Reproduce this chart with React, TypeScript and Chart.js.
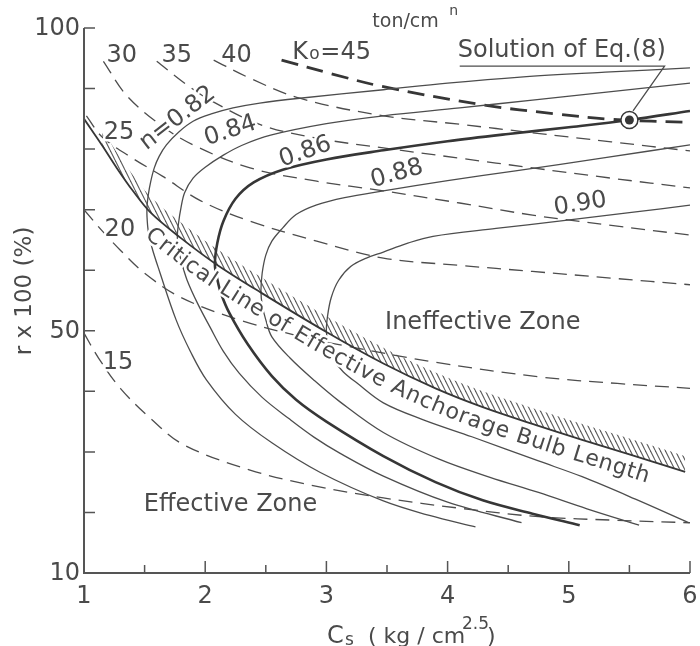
import React, { useEffect, useRef } from "react";
import { Chart, registerables } from "chart.js";
Chart.register(...registerables);

// ---------- data ----------
// Critical Line of Effective Anchorage Bulb Length
const CRIT_X = [1.0, 1.15, 1.27, 1.4, 1.55, 1.8, 2.09, 2.46, 3.0, 3.47, 3.9, 4.29, 4.75, 5.11, 5.5, 5.96];
const CRIT_Y = [85.0, 80.6, 76.9, 73.2, 69.5, 65.3, 61.0, 56.3, 49.8, 44.6, 40.5, 37.4, 34.3, 32.0, 29.6, 26.7];

// n curves (from upper-right end, through the vertex on the critical line, to lower-right end)
const N082_X = [6.0, 5.3, 4.6, 4.0, 3.47, 2.78, 2.45, 2.23, 2.05, 1.9, 1.78, 1.68, 1.62, 1.58, 1.55, 1.53, 1.52, 1.52, 1.53, 1.56, 1.62, 1.76, 1.88, 2.01, 2.25, 2.55, 2.95, 3.47, 3.85, 4.23];
const N082_Y = [93.4, 92.7, 91.9, 90.9, 89.8, 88.4, 87.6, 86.8, 85.8, 84.6, 82.8, 80.7, 78.8, 76.9, 74.6, 72.4, 70.5, 68.8, 66.5, 63.8, 60.0, 51.8, 46.5, 41.9, 36.2, 31.5, 26.6, 21.9, 19.5, 17.6];
const N084_X = [6.0, 5.35, 4.7, 4.1, 3.47, 3.0, 2.54, 2.3, 2.15, 2.0, 1.9, 1.83, 1.8, 1.78, 1.77, 1.78, 1.8, 1.85, 1.94, 2.04, 2.15, 2.28, 2.47, 2.69, 2.9, 3.11, 3.47, 4.0, 4.61];
const N084_Y = [90.9, 89.5, 88.1, 86.8, 85.5, 84.2, 82.3, 80.6, 79.0, 77.0, 75.2, 72.8, 70.3, 67.8, 65.5, 63.5, 61.7, 58.4, 54.4, 50.6, 46.6, 43.0, 39.0, 35.5, 32.4, 29.8, 26.0, 21.7, 18.3];
const N086_X = [6.0, 5.5, 5.0, 4.5, 4.0, 3.47, 3.0, 2.64, 2.4, 2.25, 2.15, 2.1, 2.08, 2.1, 2.13, 2.2, 2.35, 2.55, 2.75, 3.0, 3.47, 3.9, 4.29, 4.7, 5.09];
const N086_Y = [86.3, 84.8, 83.6, 82.5, 81.3, 79.8, 78.3, 76.6, 74.5, 71.8, 68.1, 64.5, 61.0, 58.5, 56.2, 52.9, 47.8, 42.5, 38.6, 35.0, 29.3, 25.0, 22.0, 19.8, 17.9];
const N088_X = [6.0, 5.3, 4.56, 4.0, 3.47, 3.15, 2.92, 2.75, 2.64, 2.55, 2.5, 2.47, 2.46, 2.47, 2.5, 2.55, 2.7, 2.9, 3.11, 3.47, 3.93, 4.35, 4.75, 5.15, 5.58];
const N088_Y = [80.7, 78.6, 76.4, 74.8, 73.1, 72.0, 70.8, 69.2, 67.0, 64.8, 62.5, 59.5, 56.6, 54.3, 51.8, 49.0, 45.5, 41.8, 38.3, 33.2, 28.8, 25.8, 23.3, 20.6, 17.9];
const N090_X = [6.02, 5.5, 4.92, 4.4, 3.88, 3.66, 3.47, 3.33, 3.2, 3.1, 3.04, 3.01, 3.0, 3.02, 3.06, 3.14, 3.25, 3.47, 3.8, 4.2, 4.75, 5.11, 5.55, 5.99];
const N090_Y = [70.8, 69.5, 68.1, 66.9, 65.6, 64.4, 63.0, 62.0, 60.6, 58.3, 55.5, 52.5, 49.8, 47.3, 45.2, 43.2, 41.4, 38.1, 35.3, 32.5, 28.5, 25.9, 22.2, 18.3];

// Ko curves (dashed)
const K45_X = [2.63, 3.05, 3.47, 4.29, 4.9, 5.36, 6.0];
const K45_Y = [94.7, 92.4, 90.3, 87.3, 85.8, 84.9, 84.4];
const K40_X = [2.07, 2.37, 2.78, 3.47, 4.1, 4.7, 5.35, 6.0];
const K40_Y = [94.7, 91.7, 88.4, 85.5, 84.1, 82.7, 81.2, 79.7];
const K35_X = [1.6, 1.85, 2.04, 2.46, 2.92, 3.47, 4.1, 4.7, 5.35, 6.0];
const K35_Y = [94.5, 90.6, 88.1, 84.0, 81.8, 80.2, 78.5, 76.9, 75.2, 73.6];
const K30_X = [1.16, 1.35, 1.63, 1.9, 2.37, 2.92, 3.47, 4.1, 4.7, 5.35, 6.0];
const K30_Y = [94.5, 88.9, 84.0, 80.7, 76.9, 74.7, 73.1, 71.1, 69.1, 67.4, 65.8];
const K25_X = [1.02, 1.15, 1.4, 1.65, 1.96, 2.37, 2.92, 3.47, 4.1, 4.7, 5.35, 6.0];
const K25_Y = [85.5, 82.0, 78.5, 75.5, 71.5, 68.1, 64.8, 62.0, 60.8, 59.8, 58.7, 57.6];
const K20_X = [1.0, 1.15, 1.3, 1.5, 1.8, 2.28, 2.8, 3.21, 3.9, 4.75, 5.4, 6.0];
const K20_Y = [70.0, 66.5, 63.3, 59.5, 55.5, 51.8, 49.0, 47.3, 44.8, 42.4, 41.3, 40.5];
const K15_X = [1.0, 1.12, 1.3, 1.55, 1.82, 2.37, 2.9, 3.47, 4.1, 4.75, 5.4, 6.0];
const K15_Y = [49.6, 45.5, 40.5, 35.5, 31.2, 27.0, 24.4, 22.4, 20.7, 19.3, 18.7, 18.3];

// Solution of Eq.(8) marker and its leader (underline + pointer)
const SOL_X = [5.5];
const SOL_Y = [84.8];
const LEADER_X = [4.1, 5.79, 5.53];
const LEADER_Y = [93.7, 93.7, 86.3];

// axis ticks
const X_LABELS = [1, 2, 3, 4, 5, 6];
const X_MINOR = [1.5, 2.5, 3.5, 4.5, 5.5];
const Y_TICKS = [20, 30, 40, 50, 60, 70, 80, 90, 100];
const Y_LABELS = [10, 50, 100];

// ---------- styles ----------
const INK = "#4d4d4d";
const HEAVY = "#363636";
const TXT = "#4a4a4a";
const FONT = '"DejaVu Sans", sans-serif';
const HATCH_OFFSET = 2.6;

const pts = (xs: number[], ys: number[]) => xs.map((x, i) => ({ x, y: ys[i] }));

function makeHatch(): any {
  const c = document.createElement("canvas");
  c.width = 5;
  c.height = 10;
  const g = c.getContext("2d")!;
  g.strokeStyle = "#5a5a5a";
  g.lineWidth = 1.1;
  for (const k of [-1, 0, 1]) {
    g.beginPath();
    g.moveTo(k * 5, 0);
    g.lineTo(k * 5 + 5, 10);
    g.stroke();
  }
  return g.createPattern(c, "repeat");
}

const CRIT_INDEX = 3;

function halo(ctx: any, s: string, px: number, py: number, rot: number, size: number) {
  ctx.save();
  ctx.translate(px, py);
  ctx.rotate(rot);
  ctx.font = `${size}px ${FONT}`;
  ctx.textAlign = "center";
  ctx.textBaseline = "middle";
  ctx.strokeStyle = "#ffffff";
  ctx.lineWidth = 5;
  ctx.lineJoin = "round";
  ctx.strokeText(s, 0, 0);
  ctx.fillStyle = TXT;
  ctx.fillText(s, 0, 0);
  ctx.restore();
}

function criticalText(chart: any) {
  const { ctx } = chart;
  const P = chart.getDatasetMeta(CRIT_INDEX).data as any[];
  const poly: { x: number; y: number }[] = [];
  for (let i = 0; i < P.length - 1; i++) {
    const a = P[i];
    const b = P[i + 1];
    const c1x = a.cp2x ?? a.x, c1y = a.cp2y ?? a.y, c2x = b.cp1x ?? b.x, c2y = b.cp1y ?? b.y;
    for (let k = 0; k < 30; k++) {
      const t = k / 30, u = 1 - t;
      poly.push({
        x: u * u * u * a.x + 3 * u * u * t * c1x + 3 * u * t * t * c2x + t * t * t * b.x,
        y: u * u * u * a.y + 3 * u * u * t * c1y + 3 * u * t * t * c2y + t * t * t * b.y,
      });
    }
  }
  poly.push({ x: P[P.length - 1].x, y: P[P.length - 1].y });
  const cum = [0];
  for (let i = 1; i < poly.length; i++) cum.push(cum[i - 1] + Math.hypot(poly[i].x - poly[i - 1].x, poly[i].y - poly[i - 1].y));
  const sAtX = (px: number) => {
    for (let i = 1; i < poly.length; i++) if (poly[i].x >= px) return cum[i];
    return cum[cum.length - 1];
  };
  const at = (s: number) => {
    let i = 1;
    while (i < poly.length - 1 && cum[i] < s) i++;
    const a = poly[i - 1], b = poly[i];
    const seg = cum[i] - cum[i - 1] || 1;
    const t = Math.min(1, Math.max(0, (s - cum[i - 1]) / seg));
    // smooth the direction over a short window
    const j0 = Math.max(0, i - 6), j1 = Math.min(poly.length - 1, i + 6);
    return { x: a.x + (b.x - a.x) * t, y: a.y + (b.y - a.y) * t, ang: Math.atan2(poly[j1].y - poly[j0].y, poly[j1].x - poly[j0].x) };
  };
  const text = "Critical Line of Effective Anchorage Bulb Length";
  const size = 22;
  ctx.save();
  ctx.font = `${size}px ${FONT}`;
  const ws = [...text].map((ch) => ctx.measureText(ch).width);
  const W = ws.reduce((p, q) => p + q, 0);
  const s0 = sAtX(158);
  const s1 = sAtX(652);
  const gap = (s1 - s0 - W) / (ws.length - 1);
  let cur = s0;
  const d = 16;
  [...text].forEach((ch, i) => {
    const sc = cur + ws[i] / 2;
    const p = at(sc);
    const nx = -Math.sin(p.ang), ny = Math.cos(p.ang);
    if (ch !== " ") halo(ctx, ch, p.x + nx * d, p.y + ny * d, p.ang, size);
    cur += ws[i] + gap;
  });
  ctx.restore();
}

const annotPlugin = {
  id: "annot",
  afterDatasetsDraw(chart: any) {
    const { ctx } = chart;
    const xs = chart.scales.x, ys = chart.scales.y;
    const X = (v: number) => xs.getPixelForValue(v);
    const Y = (v: number) => ys.getPixelForValue(v);
    ctx.save();
    // axes
    ctx.strokeStyle = "#555";
    ctx.lineWidth = 2;
    ctx.beginPath();
    ctx.moveTo(X(1), Y(100));
    ctx.lineTo(X(1), Y(10));
    ctx.lineTo(X(6), Y(10));
    ctx.stroke();
    ctx.lineWidth = 1.5;
    ctx.beginPath();
    for (const v of Y_TICKS) {
      ctx.moveTo(X(1), Y(v));
      ctx.lineTo(X(1) + 11, Y(v));
    }
    for (const v of X_LABELS.slice(1)) {
      ctx.moveTo(X(v), Y(10));
      ctx.lineTo(X(v), Y(10) - 12);
    }
    for (const v of X_MINOR) {
      ctx.moveTo(X(v), Y(10));
      ctx.lineTo(X(v), Y(10) - 8);
    }
    ctx.stroke();

    // tick labels
    ctx.fillStyle = TXT;
    ctx.font = `24px ${FONT}`;
    ctx.textAlign = "right";
    ctx.textBaseline = "middle";
    for (const v of Y_LABELS) ctx.fillText(String(v), X(1) - 4, Y(v) + 1);
    ctx.textAlign = "center";
    for (const v of X_LABELS) ctx.fillText(String(v), X(v), Y(10) + 24);

    // axis titles
    ctx.save();
    ctx.translate(25, 291);
    ctx.rotate(-Math.PI / 2);
    ctx.font = `23px ${FONT}`;
    ctx.fillText("r x 100 (%)", 0, 0);
    ctx.restore();

    ctx.textAlign = "left";
    ctx.textBaseline = "alphabetic";
    ctx.font = `24px ${FONT}`;
    ctx.fillText("C", 327, 643);
    ctx.font = `17px ${FONT}`;
    ctx.fillText("s", 345, 645);
    ctx.font = `22px ${FONT}`;
    ctx.fillText("( kg / cm", 368, 643);
    ctx.font = `17px ${FONT}`;
    ctx.fillText("2.5", 462, 629);
    ctx.font = `22px ${FONT}`;
    ctx.fillText(")", 487, 643);

    // Ko labels
    const lab = (s: string, x: number, y: number, rot = 0, size = 24) => halo(ctx, s, X(x), Y(y), rot, size);
    lab("30", 1.312, 95.4);
    lab("35", 1.765, 95.4);
    lab("40", 2.258, 95.4);
    lab("25", 1.288, 82.7);
    lab("20", 1.296, 66.6);
    lab("15", 1.28, 44.8);

    ctx.fillStyle = TXT;
    ctx.textAlign = "left";
    ctx.textBaseline = "alphabetic";
    ctx.font = `24px ${FONT}`;
    ctx.fillText("K", X(2.719), Y(94.9));
    ctx.font = `17px ${FONT}`;
    ctx.fillText("o", X(2.719) + 17, Y(94.9));
    ctx.font = `24px ${FONT}`;
    ctx.fillText("=45", X(2.719) + 28, Y(94.9));
    ctx.font = `19px ${FONT}`;
    ctx.fillText("ton/cm", X(2.719) + 80, Y(94.9) - 32);
    ctx.font = `14px ${FONT}`;
    ctx.fillText("n", X(2.719) + 157, Y(94.9) - 44);

    ctx.font = `24px ${FONT}`;
    ctx.fillText("Solution of Eq.(8)", X(4.084), Y(95.2));

    // n labels
    lab("n=0.82", 1.773, 85.1, (-38 * Math.PI) / 180);
    lab("0.84", 2.209, 83.0, (-18 * Math.PI) / 180);
    lab("0.86", 2.826, 79.5, (-19 * Math.PI) / 180);
    lab("0.88", 3.582, 75.9, (-16 * Math.PI) / 180);
    lab("0.90", 5.095, 70.9, (-9 * Math.PI) / 180);

    // zones
    ctx.fillStyle = TXT;
    ctx.textAlign = "center";
    ctx.textBaseline = "middle";
    ctx.font = `24px ${FONT}`;
    ctx.fillText("Ineffective Zone", X(4.29), Y(51.3));
    ctx.fillText("Effective Zone", X(2.209), Y(21.2));

    criticalText(chart);
    ctx.restore();
  },
};

export default function App() {
  const ref = useRef<HTMLCanvasElement | null>(null);
  useEffect(() => {
    if (!ref.current) return;
    const base = { showLine: true, pointRadius: 0, fill: false, tension: 0.35, borderColor: INK, borderWidth: 1.3 };
    const dash = [14, 8];
    const hatch = makeHatch();
    const chart = new Chart(ref.current, {
      type: "line",
      data: {
        datasets: [
          { ...base, showLine: false, data: pts(SOL_X, SOL_Y), pointRadius: 4.5, pointBackgroundColor: HEAVY, pointBorderWidth: 0 },
          { ...base, showLine: false, data: pts(SOL_X, SOL_Y), pointRadius: 8.5, pointBackgroundColor: "#ffffff", pointBorderColor: HEAVY, pointBorderWidth: 1.5 },
          { ...base, tension: 0, data: pts(LEADER_X, LEADER_Y), borderWidth: 1.3 },
          { ...base, data: pts(CRIT_X, CRIT_Y), borderWidth: 1.8, borderColor: HEAVY },
          { ...base, data: pts(N082_X, N082_Y) },
          { ...base, data: pts(N084_X, N084_Y) },
          { ...base, data: pts(N086_X, N086_Y), borderWidth: 2.6, borderColor: HEAVY },
          { ...base, data: pts(N088_X, N088_Y) },
          { ...base, data: pts(N090_X, N090_Y) },
          { ...base, data: pts(K45_X, K45_Y), borderDash: [17, 9], borderWidth: 2.8, borderColor: HEAVY },
          { ...base, data: pts(K40_X, K40_Y), borderDash: dash },
          { ...base, data: pts(K35_X, K35_Y), borderDash: dash },
          { ...base, data: pts(K30_X, K30_Y), borderDash: dash },
          { ...base, data: pts(K25_X, K25_Y), borderDash: dash },
          { ...base, data: pts(K20_X, K20_Y), borderDash: dash },
          { ...base, data: pts(K15_X, K15_Y), borderDash: dash },
          {
            ...base,
            data: pts(CRIT_X.slice(1), CRIT_Y.slice(1).map((v) => v + HATCH_OFFSET)),
            borderWidth: 0,
            borderColor: "rgba(0,0,0,0)",
            fill: "+1",
            backgroundColor: hatch,
          },
          { ...base, data: pts(CRIT_X.slice(1), CRIT_Y.slice(1)), borderWidth: 0, borderColor: "rgba(0,0,0,0)" },
        ] as any,
      },
      options: {
        animation: false,
        responsive: false,
        maintainAspectRatio: false,
        layout: { padding: { left: 84, top: 28, right: 8, bottom: 73 } },
        scales: {
          x: { type: "linear", min: 1, max: 6, display: false },
          y: { type: "linear", min: 10, max: 100, display: false },
        },
        plugins: { legend: { display: false }, tooltip: { enabled: false } },
      } as any,
      plugins: [annotPlugin],
    });
    return () => chart.destroy();
  }, []);
  return (
    <div style={{ position: "absolute", left: 0, top: 0, width: 700, height: 646, background: "#fff" }}>
      <canvas ref={ref} width={700} height={646} style={{ display: "block" }} />
    </div>
  );
}
